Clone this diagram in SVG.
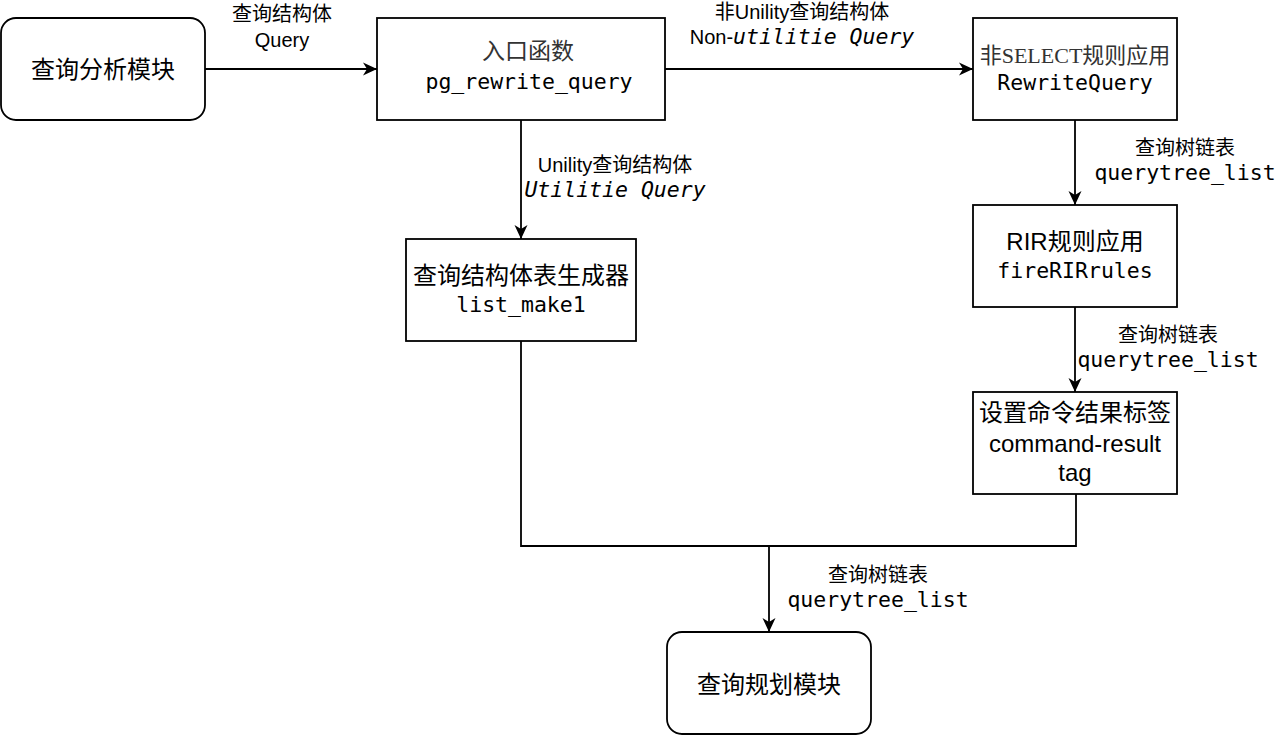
<svg xmlns="http://www.w3.org/2000/svg" width="1280" height="735" viewBox="0 0 1280 735">
<defs>
<marker id="arr" markerUnits="userSpaceOnUse" markerWidth="16" markerHeight="14" refX="14" refY="7" orient="auto">
<path d="M0,0.5 L14,7 L0,13.5 L4,7 Z" fill="#000"/>
</marker>
<style>
.box{fill:#fff;stroke:#000;stroke-width:1.8}
.ln{fill:none;stroke:#000;stroke-width:1.8}
.s{font-family:"Liberation Sans","Noto Sans CJK SC",sans-serif;fill:#000;text-anchor:middle}
.m{font-family:"DejaVu Sans Mono","Noto Sans CJK SC",monospace;fill:#000;text-anchor:middle}
.sr{font-family:"Liberation Serif","Noto Sans CJK SC",serif;fill:#333;text-anchor:middle}
.n{font-size:24px}
.l{font-size:20px}
.mn{font-size:21.5px}
</style>
</defs>
<rect width="1280" height="735" fill="#fff"/>
<g id="connectors">
<path class="ln" d="M205,69 L377,69" marker-end="url(#arr)"/>
<path class="ln" d="M665,69 L973,69" marker-end="url(#arr)"/>
<path class="ln" d="M521,120 L521,239" marker-end="url(#arr)"/>
<path class="ln" d="M1075,120 L1075,205" marker-end="url(#arr)"/>
<path class="ln" d="M1075,307 L1075,392" marker-end="url(#arr)"/>
<path class="ln" d="M521,341 L521,546 L1076,546 L1076,494"/>
<path class="ln" d="M769,546 L769,632" marker-end="url(#arr)"/>
<text class="s l" x="282" y="21">查询结构体</text>
<text class="s l" x="282" y="47">Query</text>
<text class="s l" x="802" y="19">非Unility查询结构体</text>
<text class="s l" x="802" y="44">Non-<tspan class="m mn" font-style="italic">utilitie Query</tspan></text>
<text class="s l" x="615" y="172">Unility查询结构体</text>
<text class="m mn" font-style="italic" x="615" y="197">Utilitie Query</text>
<text class="s l" x="1185" y="155">查询树链表</text>
<text class="m mn" x="1185" y="180">querytree_list</text>
<text class="s l" x="1168" y="342">查询树链表</text>
<text class="m mn" x="1168" y="367">querytree_list</text>
<text class="s l" x="878" y="582">查询树链表</text>
<text class="m mn" x="878" y="607">querytree_list</text>
</g>
<g id="query-analysis">
<rect class="box" x="1" y="18" width="204" height="102" rx="15"/>
<text class="s n" x="103" y="78">查询分析模块</text>
</g>
<g id="pg-rewrite-query">
<rect class="box" x="377" y="18" width="288" height="102"/>
<text class="sr" font-size="23" x="528" y="59">入口函数</text>
<text class="m mn" x="529" y="89">pg_rewrite_query</text>
</g>
<g id="rewrite-query">
<rect class="box" x="973" y="18" width="204" height="102"/>
<text class="sr" font-size="22" x="1075" y="63">非SELECT规则应用</text>
<text class="m mn" x="1075" y="90">RewriteQuery</text>
</g>
<g id="fire-rir-rules">
<rect class="box" x="973" y="205" width="204" height="102"/>
<text class="s n" x="1075" y="250">RIR规则应用</text>
<text class="m mn" x="1075" y="278">fireRIRrules</text>
</g>
<g id="command-result-tag">
<rect class="box" x="973" y="392" width="204" height="102"/>
<text class="s n" x="1075" y="421">设置命令结果标签</text>
<text class="s n" x="1075" y="452">command-result</text>
<text class="s n" x="1075" y="481">tag</text>
</g>
<g id="list-make1">
<rect class="box" x="406" y="239" width="230" height="102"/>
<text class="s n" x="521" y="284">查询结构体表生成器</text>
<text class="m mn" x="521" y="312">list_make1</text>
</g>
<g id="query-planning">
<rect class="box" x="667" y="632" width="204" height="102" rx="15"/>
<text class="s n" x="769" y="693">查询规划模块</text>
</g>
</svg>
